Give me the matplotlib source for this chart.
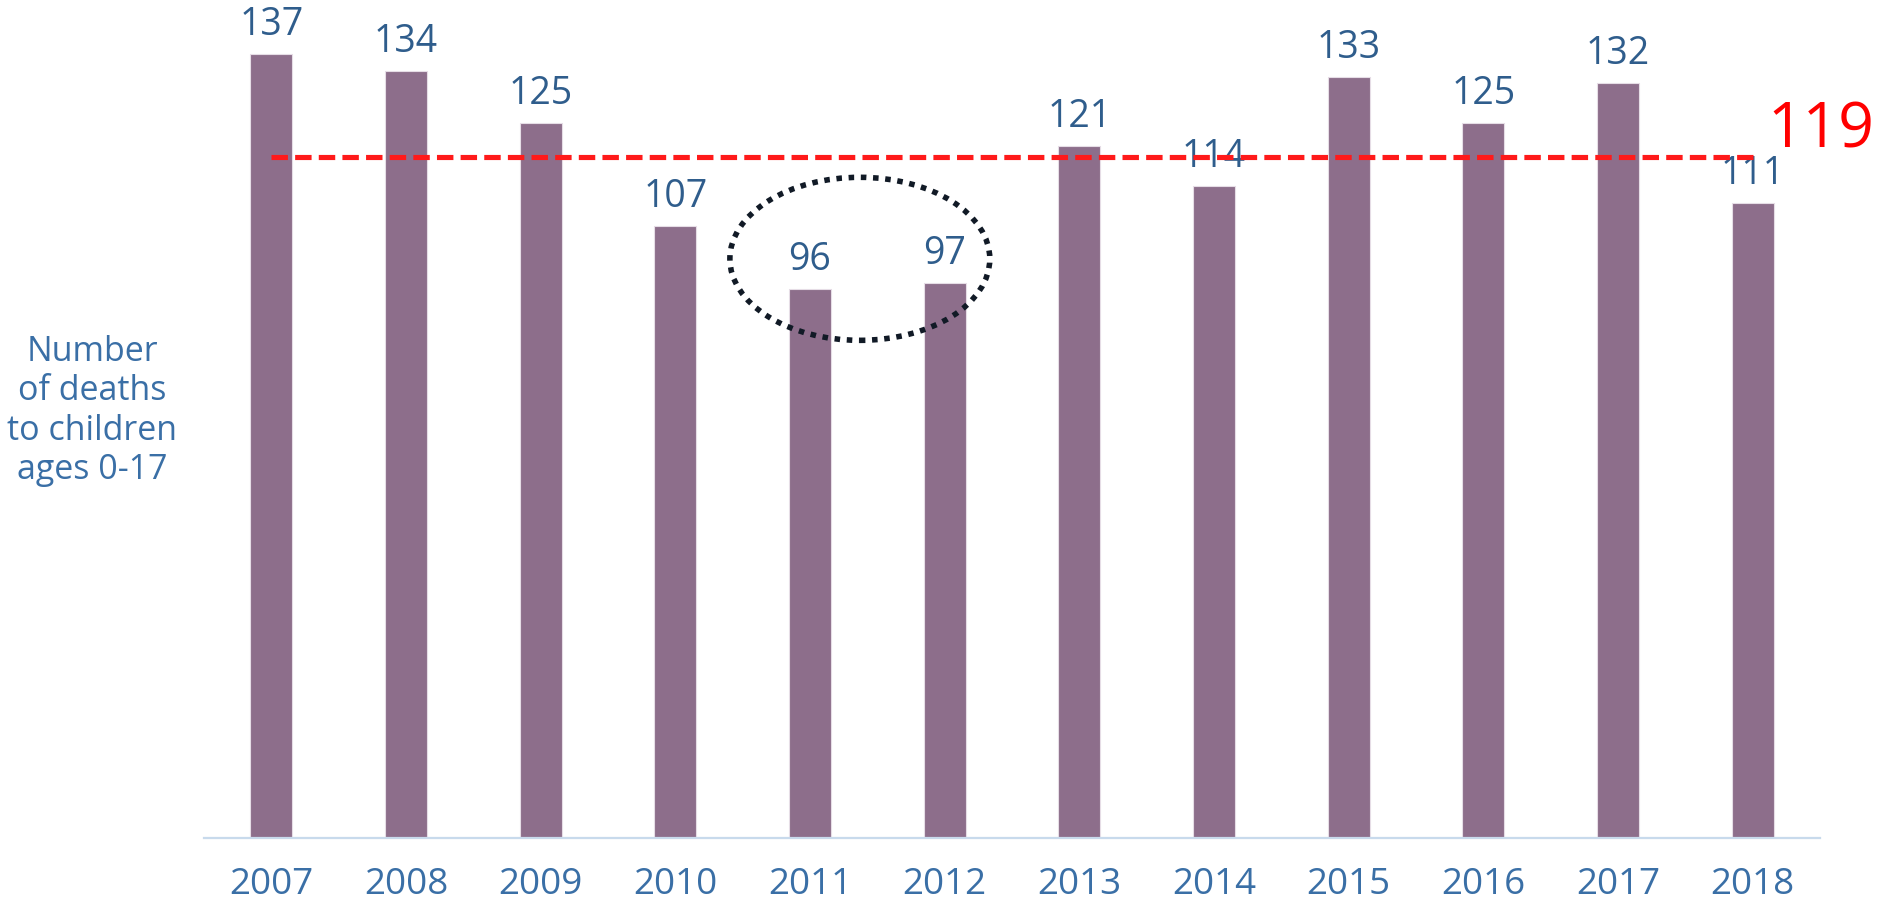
import matplotlib.pyplot as plt
from matplotlib.patches import Ellipse

years = ["2007", "2008", "2009", "2010", "2011", "2012",
         "2013", "2014", "2015", "2016", "2017", "2018"]
deaths = [137, 134, 125, 107, 96, 97, 121, 114, 133, 125, 132, 111]
average = 119
y_label = "Number\nof deaths\nto children\nages 0-17"

BAR = "#8D6E8B"
VALUE_BLUE = "#2F5D8C"
TICK_BLUE = "#3A6FA6"

plt.rcParams["font.family"] = ["Open Sans", "DejaVu Sans"]

fig = plt.figure(figsize=(18.77, 9.01), dpi=100)
ax = fig.add_axes([204 / 1877, (901 - 837.7) / 901, 1616 / 1877, 837.7 / 901])

x = list(range(len(years)))
ax.bar(x, deaths, width=0.31, color=BAR, edgecolor="#E6DDE6", linewidth=0.8, zorder=2)

for xi, v in zip(x, deaths):
    ax.annotate(str(v), (xi, v), xytext=(0, 7), textcoords="offset points",
                ha="center", va="bottom", fontsize=27, color=VALUE_BLUE, zorder=3)

# average line from first to last bar centre
ax.plot([x[0], x[-1]], [average, average], color="#FF1A1A", linewidth=3.7,
        linestyle=(0, (3.2, 1.4)), zorder=4)
ax.text(11.11, 120.75, str(average), color="#FF0000", fontsize=45,
        ha="left", va="baseline", clip_on=False)

# dotted ring around the 2011-2012 dip
ax.add_patch(Ellipse((4.37, 101.2), 1.93, 28.5, fill=False, edgecolor="#111A26",
                     linewidth=4.0, linestyle=(0, (1, 1.2)), zorder=5, clip_on=False))

ax.set_xlim(-0.5, 11.5)
ax.set_ylim(0, 146.45)
ax.set_xticks(x)
ax.set_xticklabels(years, fontsize=26.5, color=TICK_BLUE)
ax.tick_params(axis="x", length=0, pad=21)
ax.set_yticks([])
for side in ["left", "right", "top"]:
    ax.spines[side].set_visible(False)
ax.spines["bottom"].set_color("#C8DAEC")
ax.spines["bottom"].set_linewidth(1.6)

fig.text(92 / 1877, 1 - 411 / 901, y_label, ha="center", va="center",
         fontsize=24.5, color=TICK_BLUE, linespacing=1.2)

fig.savefig("out.png", dpi=100)
